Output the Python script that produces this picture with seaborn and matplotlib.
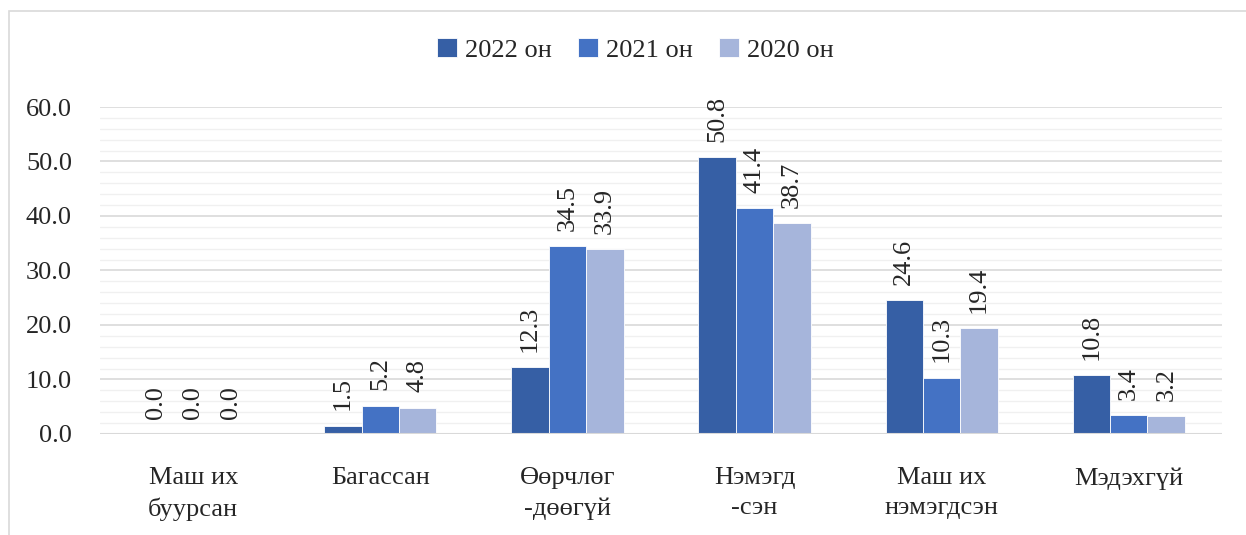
import pandas as pd
import seaborn as sns
import matplotlib.pyplot as plt
from matplotlib.patches import Rectangle
from matplotlib.ticker import MultipleLocator

categories = ["Маш их\nбуурсан", "Багассан", "Өөрчлөг\n-дөөгүй", "Нэмэгд\n-сэн", "Маш их\nнэмэгдсэн", "Мэдэхгүй"]
years = ["2022 он", "2021 он", "2020 он"]
vals_2022 = [0.0, 1.5, 12.3, 50.8, 24.6, 10.8]
vals_2021 = [0.0, 5.2, 34.5, 41.4, 10.3, 3.4]
vals_2020 = [0.0, 4.8, 33.9, 38.7, 19.4, 3.2]
colors = ["#365FA5", "#4472C4", "#A6B5DB"]


def main():
    rows = []
    for year, vals in zip(years, [vals_2022, vals_2021, vals_2020]):
        for c, v in zip(categories, vals):
            rows.append({"cat": c, "year": year, "val": v})
    df = pd.DataFrame(rows)

    sns.set_style("white")
    plt.rcParams["font.family"] = ["Liberation Serif", "DejaVu Serif"]

    fig = plt.figure(figsize=(12.46, 5.35), dpi=100)
    ax = fig.add_axes([0.080, 0.189, 0.901, 0.611])

    sns.barplot(data=df, x="cat", y="val", hue="year", palette=colors,
                width=0.6, ax=ax, edgecolor="white", linewidth=0.6, saturation=1)

    for cont in ax.containers:
        ax.bar_label(cont, fmt="%.1f", rotation=90, padding=11, fontsize=19)

    ax.set_ylim(0, 60)
    ax.yaxis.set_major_locator(MultipleLocator(10))
    ax.yaxis.set_minor_locator(MultipleLocator(2))
    ax.set_yticks(range(0, 61, 10))
    ax.set_yticklabels([f"{v:.1f}" for v in range(0, 61, 10)], fontsize=19)
    ax.grid(axis="y", which="major", color="#D9D9D9", linewidth=1.2)
    ax.grid(axis="y", which="minor", color="#F0F0F0", linewidth=1.0)
    ax.set_axisbelow(True)
    ax.tick_params(axis="x", labelsize=19, pad=24, length=0)
    for lbl in ax.get_xticklabels():
        lbl.set_linespacing(1.45)
    ax.tick_params(axis="y", length=0, pad=20)
    ax.set_xlabel("")
    ax.set_ylabel("")
    for s in ax.spines.values():
        s.set_visible(False)
    ax.axhline(0, color="#D9D9D9", linewidth=1.5)

    ax.legend(loc="center", bbox_to_anchor=(0.477, 1.175), ncol=3, frameon=False,
              fontsize=19, handlelength=0.75, handleheight=0.75, columnspacing=1.0,
              handletextpad=0.3)

    fig.patches.append(Rectangle((0.007, -0.05), 1.2, 1.03, transform=fig.transFigure,
                                 fill=False, edgecolor="#D9D9D9", linewidth=1.2))

    plt.savefig("out.png", dpi=100)
    plt.close()


if __name__ == "__main__":
    main()
